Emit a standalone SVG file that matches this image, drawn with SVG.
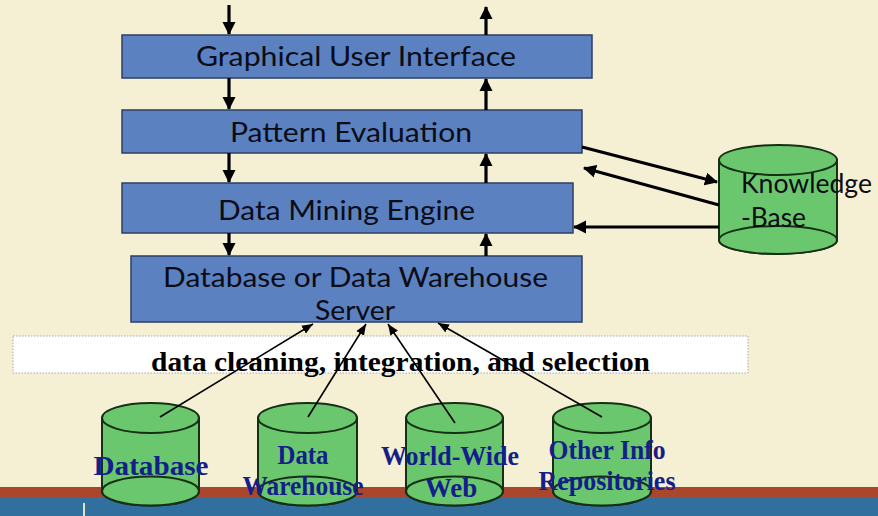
<svg xmlns="http://www.w3.org/2000/svg" width="878" height="516" viewBox="0 0 878 516">
<defs>
<style>
.bg{fill:#f5efd3}
.box{fill:#5b81c0;stroke:#2c3f66;stroke-width:1.5}
.btxt{font-family:Lato,"Liberation Sans",sans-serif;font-size:27px;fill:#0c0c16}
.cyl{fill:#6bc76d;stroke:#163016;stroke-width:2}
.lbl{font-family:"Liberation Serif",serif;font-weight:bold;font-size:27px;fill:#14208a;text-anchor:middle}
.thick{stroke:#000;stroke-width:3.2;fill:none}
.thin{stroke:#000;stroke-width:1.6;fill:none}
</style>
<marker id="ah" markerUnits="userSpaceOnUse" markerWidth="14" markerHeight="14" refX="12" refY="7" orient="auto">
<path d="M0,0.5 L13,7 L0,13.5 Z" fill="#000"/>
</marker>
<marker id="as" markerUnits="userSpaceOnUse" markerWidth="12" markerHeight="10" refX="11" refY="5" orient="auto">
<path d="M0,0.5 L11,5 L0,9.5 Z" fill="#000"/>
</marker>
</defs>
<rect class="bg" x="0" y="0" width="878" height="516"/>
<rect x="0" y="487" width="878" height="11" fill="#a9462b"/>
<rect x="0" y="497" width="878" height="19" fill="#306f9e"/>
<line x1="84" y1="503" x2="84" y2="516" stroke="#d8e8c8" stroke-width="2"/>

<g id="gui">
<rect class="box" x="122" y="35" width="470" height="43"/>
<text class="btxt" x="196" y="66" textLength="320" lengthAdjust="spacingAndGlyphs">Graphical User Interface</text>
</g>
<g id="pattern-evaluation">
<rect class="box" x="122" y="110" width="460" height="43"/>
<text class="btxt" x="230" y="142" textLength="242" lengthAdjust="spacingAndGlyphs">Pattern Evaluation</text>
</g>
<g id="data-mining-engine">
<rect class="box" x="122" y="183" width="451" height="50"/>
<text class="btxt" x="218" y="220" textLength="257" lengthAdjust="spacingAndGlyphs">Data Mining Engine</text>
</g>
<g id="db-server">
<rect class="box" x="131" y="256" width="451" height="66"/>
<text class="btxt" x="163" y="287" textLength="385" lengthAdjust="spacingAndGlyphs">Database or Data Warehouse</text>
<text class="btxt" x="315" y="320" textLength="80" lengthAdjust="spacingAndGlyphs">Server</text>
</g>
<g id="knowledge-base">
<path class="cyl" d="M719,160 L719,240 A59,14 0 0 0 837,240 L837,160 Z"/>
<ellipse class="cyl" cx="778" cy="240" rx="59" ry="14"/>
<ellipse class="cyl" cx="778" cy="160" rx="59" ry="15"/>
<text class="btxt" x="741" y="193" textLength="131" lengthAdjust="spacingAndGlyphs">Knowledge</text>
<text class="btxt" x="741" y="227" textLength="65" lengthAdjust="spacingAndGlyphs">-Base</text>
</g>
<g id="cleaning">
<rect x="13" y="336" width="735" height="37" fill="#fff" stroke="#a8a8a8" stroke-width="1" stroke-dasharray="1.5,1.5"/>
<text x="151" y="371" font-family="'Liberation Serif',serif" font-weight="bold" font-size="27" fill="#000" textLength="499" lengthAdjust="spacingAndGlyphs">data cleaning, integration, and selection</text>
</g>
<g id="database">
<path class="cyl" d="M102,418 L102,491 A48.5,14.5 0 0 0 199,491 L199,418 Z"/>
<ellipse class="cyl" cx="150.5" cy="491" rx="48.5" ry="14.5"/>
<ellipse class="cyl" cx="150.5" cy="418" rx="48.5" ry="15"/>
<text class="lbl" x="151" y="475" textLength="115" lengthAdjust="spacingAndGlyphs">Database</text>
</g>
<g id="data-warehouse">
<path class="cyl" d="M258,418 L258,491 A49.5,14.5 0 0 0 357,491 L357,418 Z"/>
<ellipse class="cyl" cx="307.5" cy="491" rx="49.5" ry="14.5"/>
<ellipse class="cyl" cx="307.5" cy="418" rx="49.5" ry="15"/>
<text class="lbl" x="303" y="464" textLength="51" lengthAdjust="spacingAndGlyphs">Data</text>
<text class="lbl" x="303" y="495" textLength="121" lengthAdjust="spacingAndGlyphs">Warehouse</text>
</g>
<g id="world-wide-web">
<path class="cyl" d="M406,418 L406,491 A48.5,14.5 0 0 0 503,491 L503,418 Z"/>
<ellipse class="cyl" cx="454.5" cy="491" rx="48.5" ry="14.5"/>
<ellipse class="cyl" cx="454.5" cy="418" rx="48.5" ry="15"/>
<text class="lbl" x="450" y="465" textLength="138" lengthAdjust="spacingAndGlyphs">World-Wide</text>
<text class="lbl" x="451" y="497">Web</text>
</g>
<g id="other-info">
<path class="cyl" d="M553,418 L553,491 A49,14.5 0 0 0 651,491 L651,418 Z"/>
<ellipse class="cyl" cx="602" cy="491" rx="49" ry="14.5"/>
<ellipse class="cyl" cx="602" cy="418" rx="49" ry="15"/>
<text class="lbl" x="607" y="459" textLength="117" lengthAdjust="spacingAndGlyphs">Other Info</text>
<text class="lbl" x="607" y="490" textLength="137" lengthAdjust="spacingAndGlyphs">Repositories</text>
</g>

<g id="connectors">
<line class="thick" x1="229" y1="5" x2="229" y2="34" marker-end="url(#ah)"/>
<line class="thick" x1="486" y1="35" x2="486" y2="7" marker-end="url(#ah)"/>
<line class="thick" x1="229" y1="78" x2="229" y2="109" marker-end="url(#ah)"/>
<line class="thick" x1="486" y1="110" x2="486" y2="79" marker-end="url(#ah)"/>
<line class="thick" x1="229" y1="153" x2="229" y2="182" marker-end="url(#ah)"/>
<line class="thick" x1="486" y1="183" x2="486" y2="154" marker-end="url(#ah)"/>
<line class="thick" x1="229" y1="233" x2="229" y2="255" marker-end="url(#ah)"/>
<line class="thick" x1="486" y1="256" x2="486" y2="234" marker-end="url(#ah)"/>
<line class="thick" stroke-width="4" x1="582" y1="147" x2="717" y2="182" marker-end="url(#ah)"/>
<line class="thick" stroke-width="4" x1="719" y1="205" x2="584" y2="168" marker-end="url(#ah)"/>
<line class="thick" stroke-width="4" x1="719" y1="227" x2="574" y2="227" marker-end="url(#ah)"/>
<line class="thin" x1="160" y1="417" x2="313" y2="324" marker-end="url(#as)"/>
<line class="thin" x1="308" y1="417" x2="366" y2="324" marker-end="url(#as)"/>
<line class="thin" x1="455" y1="423" x2="388" y2="324" marker-end="url(#as)"/>
<line class="thin" x1="602" y1="417" x2="438" y2="323" marker-end="url(#as)"/>
</g>
</svg>
